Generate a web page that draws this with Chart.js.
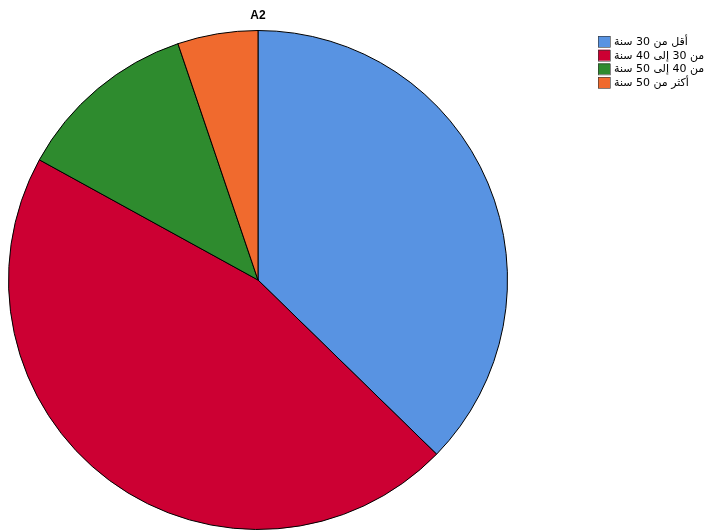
<!DOCTYPE html>
<html>
<head>
<meta charset="utf-8">
<script src="https://cdn.jsdelivr.net/npm/chart.js@4/dist/chart.umd.min.js"></script>
<style>
  html, body { margin: 0; padding: 0; background: #fff; overflow: hidden; }
  #wrap { width: 709px; height: 530px; }
</style>
</head>
<body>
<div id="wrap"><canvas id="pieChart" width="709" height="530"></canvas></div>
<script>
const chartTitle = 'A2';
const labels = ['أقل من 30 سنة', 'من 30 إلى 40 سنة', 'من 40 إلى 50 سنة', 'أكثر من 50 سنة'];
const values = [37.3, 45.7, 11.8, 5.2];
const colors = ['#5893E2', '#CC0033', '#2E8B2E', '#F06A2E'];

// title + right-hand legend, drawn the way SPSS places them
const sideLegend = {
    id: 'sideLegend',
    afterDraw(chart) {
        const c = chart.ctx;
        c.save();
        c.fillStyle = '#000';
        c.font = 'bold 12px "Liberation Sans", Arial, sans-serif';
        c.textAlign = 'center';
        c.textBaseline = 'middle';
        c.fillText(chartTitle, 258, 16);

        c.font = '11px "DejaVu Sans", sans-serif';
        c.textAlign = 'left';
        labels.forEach((lab, i) => {
            const y = 36 + i * 13.7;
            c.fillStyle = colors[i];
            c.fillRect(598, y, 12, 11);
            c.strokeStyle = '#333';
            c.lineWidth = 0.6;
            c.strokeRect(598.5, y + 0.5, 12, 11);
            c.fillStyle = '#000';
            c.fillText(lab, 614, y + 6);
        });
        c.restore();
    }
};

new Chart(document.getElementById('pieChart').getContext('2d'), {
    type: 'pie',
    data: {
        labels: labels,
        datasets: [{
            data: values,
            backgroundColor: colors,
            borderColor: '#000',
            borderWidth: 1
        }]
    },
    options: {
        responsive: false,
        animation: false,
        layout: { padding: { top: 30, bottom: 0, left: 8, right: 201 } },
        plugins: {
            legend: { display: false },
            tooltip: { enabled: false }
        }
    },
    plugins: [sideLegend]
});
</script>
</body>
</html>
